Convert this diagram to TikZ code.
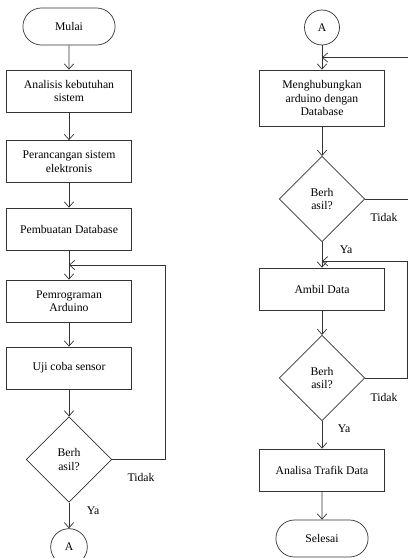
\documentclass[tikz,border=0pt]{standalone}
\usepackage{fontspec}
\setmainfont{Liberation Serif}
\usetikzlibrary{calc}
\usetikzlibrary{shapes,arrows,arrows.meta}
\usetikzlibrary{positioning}
\tikzset{
    process/.style={
           rectangle,
           draw=black!80,
           minimum width=3.75cm,
           minimum height=1.26cm,
           inner sep=2pt,
           align=center,
           },
    decision/.style={
           diamond,
           aspect=1,
           draw=black!80,
           minimum size=2.56cm,
           inner sep=0pt,
           align=center,
           },
    terminal/.style={
           rounded rectangle,
           draw=black!80,
           minimum width=3cm,
           minimum height=1.11cm,
           },
    connector/.style={
           circle,
           draw=black!80,
           minimum size=1.1cm,
           inner sep=0pt,
           },
    lbl/.style={inner sep=0pt},
    flow/.style={-{Straight Barb[length=4.5pt,width=8pt]}, draw=black!80},
}

\begin{document}
\begin{tikzpicture}[node distance=2cm,on grid,line width=0.6pt,
    font=\fontsize{10}{11.5}\selectfont]
   \useasboundingbox (0,0) rectangle (12.24,-16.74);
   % kolom kiri
   \node[terminal] (mulai) at (2.07,-0.795) {Mulai};
   \node[process] (analisis) [below=1.935 of mulai] {Analisis kebutuhan\\sistem};
   \node[process] (rancang) [below=2.115 of analisis] {Perancangan sistem\\elektronis};
   \node[process] (db) [below=2.025 of rancang] {Pembuatan Database};
   \node[process] (prog) [below=2.16 of db] {Pemrograman\\Arduino};
   \node[process] (uji) [below=2.01 of prog] {Uji coba sensor};
   \node[decision] (cek1) [below=2.745 of uji] {Berh\\asil?};
   \node[connector] (a1) [below=2.625 of cek1] {A};
   % kolom kanan
   \node[connector, minimum size=1.05cm] (a2) at (9.66,-0.825) {A};
   \node[process, minimum height=1.68cm] (hubung) [below=2.115 of a2] {Menghubungkan\\arduino dengan\\Database};
   \node[decision] (cek2) [below=3.03 of hubung] {Berh\\asil?};
   \node[process] (ambil) [below=2.7 of cek2] {Ambil Data};
   \node[decision] (cek3) [below=2.67 of ambil] {Berh\\asil?};
   \node[process] (trafik) [below=2.76 of cek3] {Analisa Trafik Data};
   \node[terminal] (selesai) [below=2.055 of trafik] {Selesai};
   % titik pertemuan
   \coordinate (j1) at ($(db.south)!0.5!(prog.north)$);
   \coordinate (j2) at ($(a2.south)!0.5!(hubung.north)$);
   \coordinate (j3) at ($(cek2.south)!0.75!(ambil.north)$);
   % label
   \node[lbl] (t1) at ($(cek1.east)+(0.87,-0.54)$) {Tidak};
   \node[lbl] (y1) at ($(cek1.south)+(0.72,-0.24)$) {Ya};
   \node[lbl] (t2) at ($(cek2.east)+(0.57,-0.54)$) {Tidak};
   \node[lbl] (y2) at ($(cek2.south)+(0.72,-0.23)$) {Ya};
   \node[lbl] (t3) at ($(cek3.east)+(0.57,-0.57)$) {Tidak};
   \node[lbl] (y3) at ($(cek3.south)+(0.66,-0.23)$) {Ya};
    \path[flow]
    (mulai) edge (analisis)
    (analisis) edge (rancang)
    (rancang) edge (db)
    (db) edge (prog)
    (prog) edge (uji)
    (uji) edge (cek1)
    (cek1) edge (a1)
    (a2) edge (hubung)
    (hubung) edge (cek2)
    (cek2) edge (ambil)
    (ambil) edge (cek3)
    (cek3) edge (trafik)
    (trafik) edge (selesai);
   \draw[flow] (cek1.east) -- ++(1.59,0) |- (j1);
   \draw[flow] (cek2.east) -- ++(1.32,0) |- (j2);
   \draw[flow] (cek3.east) -- ++(1.26,0) |- (j3);
\end{tikzpicture}
\end{document}
